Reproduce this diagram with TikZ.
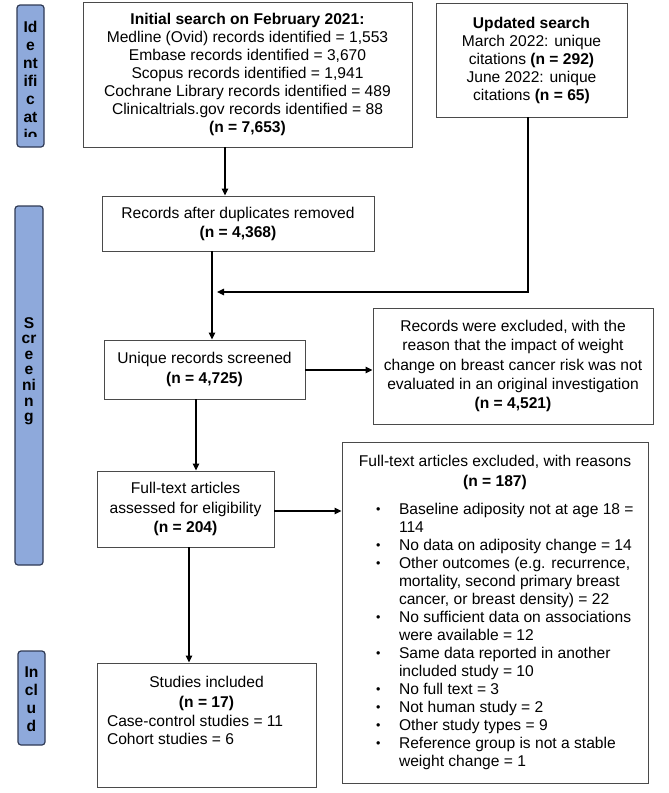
\documentclass[tikz,border=0pt]{standalone}
\usepackage{fontspec}
\setmainfont{Liberation Sans}
\usetikzlibrary{arrows.meta,calc}
\definecolor{barfill}{HTML}{8EA9DB}
\definecolor{barline}{HTML}{2F3A55}
\definecolor{boxline}{HTML}{4A4A4A}
\newcommand{\blt}{\makebox[23pt][l]{\raisebox{1.5pt}{\fontsize{12.5}{12.5}\selectfont •}}}
\tikzset{
  box/.style={draw=boxline, line width=0.9pt, rectangle, inner sep=0pt, align=center,
    font={\fontsize{15.6}{18}\selectfont}},
  bar/.style={draw=barline, fill=barfill, line width=1.2pt, rounded corners=3pt, inner sep=0pt},
  bartext/.style={font={\fontsize{15.6}{18}\selectfont\bfseries}, align=center, inner sep=0pt},
  arr/.style={draw=black, line width=1.2pt, -{Triangle[length=7pt,width=6.5pt]}},
}
\begin{document}
\begin{tikzpicture}[x=1pt,y=-1pt]
\useasboundingbox (0,0) rectangle (669,793);

% side bars
\node[bar, minimum width=27pt, minimum height=142pt] (identbar) at (30.5,76) {};
\begin{scope}
\clip (identbar.north west) rectangle ($(identbar.south east)+(0,-11)$);
\node[bartext] (identtext) at (30.5,81) {Id\\e\\nt\\ifi\\c\\at\\io};
\end{scope}
\node[bar, minimum width=28pt, minimum height=359pt] (screenbar) at (29,385.5) {};
\node[bartext, font={\fontsize{15.6}{15.6}\selectfont\bfseries}] (screentext) at (29,371) {S\\cr\\e\\e\\ni\\n\\g};
\node[bar, minimum width=27pt, minimum height=94pt] (inclbar) at (31.5,698) {};
\node[bartext] (incltext) at (31.5,699) {In\\cl\\u\\d};

% boxes
\node[box, minimum width=329pt, minimum height=145pt] (init) at (247.5,74.5)
  {\textbf{Initial search on February 2021:}\\
   Medline (Ovid) records identified = 1,553\\
   Embase records identified = 3,670\\
   Scopus records identified = 1,941\\
   Cochrane Library records identified = 489\\
   Clinicaltrials.gov records identified = 88\\
   \textbf{(n = 7,653)}};
\node[box, minimum width=191pt, minimum height=114pt] (upd) at (531.5,60)
  {\textbf{Updated search}\\
   March 2022: unique\\
   citations \textbf{(n = 292)}\\
   June 2022: unique\\
   citations \textbf{(n = 65)}};
\node[box, minimum width=272pt, minimum height=55pt, font={\fontsize{15.6}{19}\selectfont}] (dup) at (238,223.5)
  {Records after duplicates removed\\ \textbf{(n = 4,368)}};
\node[box, minimum width=201pt, minimum height=59pt, font={\fontsize{15.6}{19.5}\selectfont}] (uniq) at (204.5,369.5)
  {Unique records screened\\ \textbf{(n = 4,725)}};
\node[box, minimum width=280pt, minimum height=116pt, font={\fontsize{15.6}{19.2}\selectfont}] (excl1) at (513,366)
  {Records were excluded, with the\\
   reason that the impact of weight\\
   change on breast cancer risk was not\\
   evaluated in an original investigation\\
   \textbf{(n = 4,521)}};
\node[box, minimum width=177pt, minimum height=76pt, font={\fontsize{15.6}{19.5}\selectfont}] (full) at (185.5,509)
  {Full-text articles\\ assessed for eligibility\\ \textbf{(n = 204)}};
\node[box, minimum width=219pt, minimum height=124pt, inner xsep=10pt, text width=199pt, align=none,
      font={\fontsize{15.6}{18.5}\selectfont}] (stud) at (206.5,725)
  {{\centering Studies included\\[1.5pt] \textbf{(n = 17)}\par}
   \noindent Case-control studies = 11\\
   Cohort studies = 6\\[10pt]
   \mbox{}\par};
\node[box, minimum width=306pt, minimum height=341pt, text width=306pt, align=none] (excl2) at (495,612.5)
  {{\centering Full-text articles excluded, with reasons\\[2pt] \textbf{(n = 187)}\par}
   \vspace{10pt}
   {\raggedright\noindent
   \hspace*{34pt}\blt Baseline adiposity not at age 18 =\\
   \hspace*{57pt}114\\
   \hspace*{34pt}\blt No data on adiposity change = 14\\
   \hspace*{34pt}\blt Other outcomes (e.g. recurrence,\\
   \hspace*{57pt}mortality, second primary breast\\
   \hspace*{57pt}cancer, or breast density) = 22\\
   \hspace*{34pt}\blt No sufficient data on associations\\
   \hspace*{57pt}were available = 12\\
   \hspace*{34pt}\blt Same data reported in another\\
   \hspace*{57pt}included study = 10\\
   \hspace*{34pt}\blt No full text = 3\\
   \hspace*{34pt}\blt Not human study = 2\\
   \hspace*{34pt}\blt Other study types = 9\\
   \hspace*{34pt}\blt Reference group is not a stable\\
   \hspace*{57pt}weight change = 1\par}};

% connector guide coordinates
\coordinate (xa) at (225,0);
\coordinate (xb) at (212,0);
\coordinate (xc) at (528,0);
\coordinate (join) at (217,292);
\coordinate (yr1) at (0,370);
\coordinate (xd) at (196,0);
\coordinate (yr2) at (0,511);
\coordinate (xe) at (189,0);

\draw[arr] (init.south -| xa) -- (dup.north -| xa);
\draw[arr] (dup.south -| xb) -- (uniq.north -| xb);
\draw[arr] (upd.south -| xc) |- (join);
\draw[arr] (uniq.east |- yr1) -- (excl1.west |- yr1);
\draw[arr] (uniq.south -| xd) -- (full.north -| xd);
\draw[arr] (full.east |- yr2) -- (excl2.west |- yr2);
\draw[arr] (full.south -| xe) -- (stud.north -| xe);
\end{tikzpicture}
\end{document}
